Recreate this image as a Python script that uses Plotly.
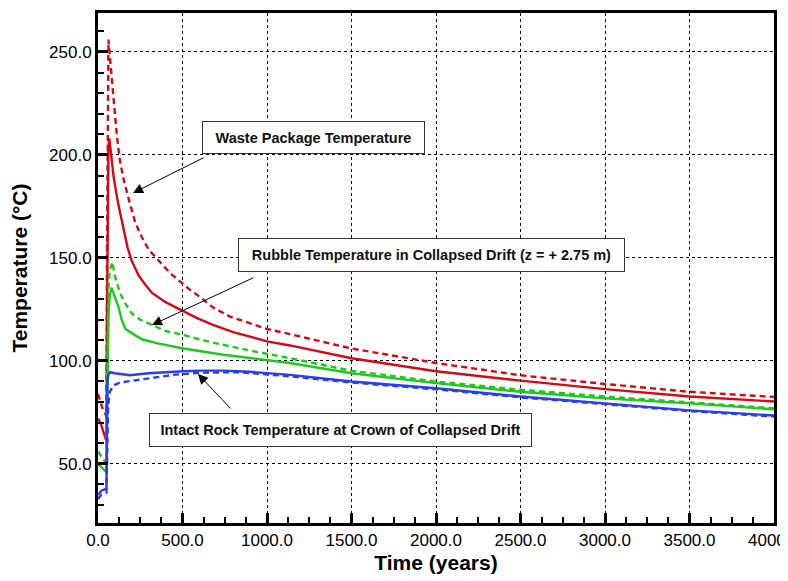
import plotly.graph_objects as go

# ---------------- data ----------------
wp_dash_t = [0, 10, 20, 30, 40, 50, 53, 57, 62, 70, 80, 93, 112, 130, 152, 190, 221, 260, 300,
             426, 544, 604, 680, 781, 1000, 1136, 1500, 2000, 2500, 3000, 3500, 4000]
wp_dash_T = [84, 81, 78, 76, 75, 73, 150, 232, 256, 248, 238, 228, 209, 197, 188, 176, 167, 160, 154,
             142.7, 134.5, 131, 126, 121.5, 115.5, 113, 106, 99, 93, 88.8, 85, 82.5]

wp_sol_t = [0, 15, 30, 45, 50, 53, 57, 62, 67, 80, 93, 120, 150, 175, 200, 240, 280, 320, 400,
            485, 580, 680, 800, 1000, 1136, 1500, 2000, 2500, 3000, 3500, 4000]
wp_sol_T = [72, 70, 66, 62, 61, 120, 185, 204, 208, 198, 189, 176, 164, 155, 148.5, 141.5, 137, 133, 128.5,
            125, 121, 117.5, 114, 109.5, 107.5, 101.3, 95, 90.4, 86.3, 82.7, 80.3]

rub_dash_t = [0, 25, 50, 53, 57, 62, 70, 85, 100, 130, 160, 200, 250, 318, 400, 505, 620, 742,
              900, 1136, 1500, 2000, 2500, 3000, 3500, 4000]
rub_dash_T = [56, 53, 50, 80, 115, 135, 144, 148, 141, 133, 128, 123, 120, 117.5, 114.5, 112.6, 110, 107.8,
              105, 101.3, 95.2, 90, 86, 82.7, 79.8, 77]

rub_sol_t = [0, 25, 50, 53, 57, 62, 70, 80, 100, 122, 140, 162, 209, 260, 347, 505, 742, 1136,
             1500, 2000, 2500, 3000, 3500, 4000]
rub_sol_T = [50, 48, 46, 70, 100, 122, 132, 135.5, 131, 126, 120, 115.5, 113, 110.5, 108.6, 106, 103, 99,
             94, 89.2, 85, 81.8, 79.4, 76.5]

rock_sol_t = [0, 20, 50, 52, 55, 60, 70, 100, 130, 189, 300, 400, 505, 604, 742, 900, 1136,
              1500, 2000, 2500, 3000, 3500, 4000]
rock_sol_T = [35, 37, 38, 60, 88, 93, 94.5, 94, 93.7, 93, 94, 94.6, 95, 95.3, 95.3, 94.7, 93.2,
              90, 86.7, 82.7, 79.4, 76, 73.5]

rock_dash_t = [0, 20, 50, 53, 60, 70, 90, 130, 250, 446, 604, 840, 1136, 1500, 2000, 2500, 3000, 3500, 4000]
rock_dash_T = [33, 35, 36, 55, 78, 85, 88, 89.5, 91, 93.2, 94.3, 94.5, 92.5, 89.5, 86.2, 82.3, 79, 75.6, 73]

labels = ["Waste Package Temperature",
          "Rubble Temperature in Collapsed Drift (z = + 2.75 m)",
          "Intact Rock Temperature at Crown of Collapsed Drift"]

RED, GREEN, BLUE = "#d10a14", "#1ec81e", "#2a3cf0"

# ---------------- layout geometry ----------------
OFF = 8                      # page body margin of the html page
W, H = 788 - OFF, 581 - OFF
L, R, T, B = 98 - OFF, 14, 13 - OFF, 58
PW, PH = W - L - R, H - T - B
XR = [0, 4000]
YR = [21.3, 268.9]


# helpers take page pixel coordinates (as measured on the reference)
def px2x(px):
    return XR[0] + (px - OFF - L) / PW * (XR[1] - XR[0])


def px2y(py):
    return YR[0] + (H - B - (py - OFF)) / PH * (YR[1] - YR[0])


def px2px(px):
    return (px - OFF - L) / PW


def py2py(py):
    return (H - B - (py - OFF)) / PH


fig = go.Figure()
series = [
    (wp_dash_t, wp_dash_T, RED, "6px,4px"),
    (wp_sol_t, wp_sol_T, RED, "solid"),
    (rub_dash_t, rub_dash_T, GREEN, "6px,4px"),
    (rub_sol_t, rub_sol_T, GREEN, "solid"),
    (rock_dash_t, rock_dash_T, BLUE, "6px,4px"),
    (rock_sol_t, rock_sol_T, BLUE, "solid"),
]
for t, v, c, d in series:
    fig.add_trace(go.Scatter(x=t, y=v, mode="lines", line=dict(color=c, width=2.4, dash=d),
                             showlegend=False, hoverinfo="skip"))

# boxes: (left, top, right, bottom) in page pixels
boxes = [(202, 121, 425, 154), (238, 238, 625, 272), (149, 413, 532, 447)]
annos = []
for (x0, y0, x1, y1), txt in zip(boxes, labels):
    annos.append(dict(
        text="<b>%s</b>" % txt, xref="paper", yref="paper",
        x=px2px((x0 + x1) / 2), y=py2py((y0 + y1) / 2), xanchor="center", yanchor="middle",
        showarrow=False, bgcolor="white", bordercolor="#333", borderwidth=1, borderpad=0,
        width=x1 - x0 - 2, height=y1 - y0 - 2,
        font=dict(family="Liberation Sans, Arial", size=14.5, color="#111")))

# arrows: tail pixel -> tip pixel
arrows = [((205, 157), (133, 193)), ((255, 277), (152, 325)), ((232, 410), (198, 374))]
for (tx, ty), (hx, hy) in arrows:
    annos.append(dict(
        text="", x=px2x(hx), y=px2y(hy), ax=px2x(tx), ay=px2y(ty),
        xref="x", yref="y", axref="x", ayref="y", showarrow=True,
        arrowhead=2, arrowsize=2, arrowwidth=1, arrowcolor="black"))

tickfont = dict(family="Liberation Sans, Arial", size=17, color="black")
fig.update_layout(
    width=W, height=H, margin=dict(l=L, r=R, t=T, b=B),
    paper_bgcolor="white", plot_bgcolor="white",
    annotations=annos,
    xaxis=dict(range=XR, dtick=500, tick0=0, tickformat=".1f", ticks="inside", ticklen=10, tickwidth=2.5,
               tickcolor="black", showline=True, linewidth=3, linecolor="black", mirror=True,
               showgrid=True, gridcolor="black", gridwidth=1, griddash="dot", zeroline=False,
               minor=dict(ticks="inside", ticklen=6, tickwidth=1.5, dtick=125, tickcolor="black", showgrid=False),
               tickfont=tickfont, automargin=False, ticklabeloverflow="allow",
               title=dict(text="<b>Time (years)</b>", standoff=6,
                          font=dict(family="Liberation Sans, Arial", size=21, color="black"))),
    yaxis=dict(range=YR, dtick=50, tick0=0, tickformat=".1f", ticks="inside", ticklen=10, tickwidth=2.5,
               tickcolor="black", showline=True, linewidth=3, linecolor="black", mirror=True,
               showgrid=True, gridcolor="black", gridwidth=1, griddash="dot", zeroline=False,
               minor=dict(ticks="inside", ticklen=6, tickwidth=1.5, dtick=10, tickcolor="black", showgrid=False),
               tickfont=tickfont, automargin=False, ticklabeloverflow="allow",
               title=dict(text="<b>Temperature (°C)</b>", standoff=16,
                          font=dict(family="Liberation Sans, Arial", size=21, color="black"))),
)

fig.write_html("out.html")
